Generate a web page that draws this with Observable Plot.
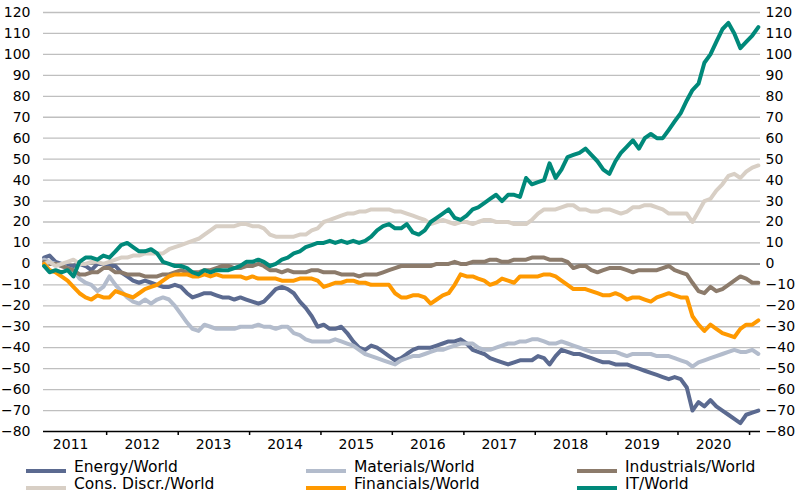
<!DOCTYPE html>
<html><head><meta charset="utf-8">
<script src="https://cdn.jsdelivr.net/npm/d3@7"></script>
<script src="https://cdn.jsdelivr.net/npm/@observablehq/plot@0.6"></script>
<style>
body{margin:0;background:#fff;font-family:"DejaVu Sans",sans-serif;}
#wrap{width:800px;height:498px;position:relative;overflow:hidden;}
#chart{position:absolute;left:0;top:0;}
#legend{position:absolute;left:0;top:450px;width:800px;height:48px;font-size:15.5px;color:#000;}
.sw{position:absolute;width:40px;height:4px;}
.lab{position:absolute;line-height:18px;white-space:nowrap;}
</style></head><body><div id="wrap"><div id="chart"></div><div id="legend"></div></div>
<script>
const seriesNames = ["Energy/World","Materials/World","Industrials/World","Cons. Discr./World","Financials/World","IT/World"];
const seriesColors = ["#5b6a90","#b3bccc","#8c7b6b","#d8cfc5","#ff9900","#00897a"];
const yearLabels = ["2011","2012","2013","2014","2015","2016","2017","2018","2019","2020"];
const yTicks = [-80,-70,-60,-50,-40,-30,-20,-10,0,10,20,30,40,50,60,70,80,90,100,110,120];

// monthly observations, Feb 2011 .. Feb 2021 (mid-month)
const energy = [
  3,4,1,0,-1,-1,0,-1,-3,0,0,-1,
  -1,-4,-6,-8,-9,-8,-9,-10,-11,-11,-10,-11,
  -14,-16,-15,-14,-14,-15,-16,-16,-17,-16,-17,-18,
  -19,-18,-15,-12,-11,-12,-14,-18,-21,-25,-30,-29,
  -31,-31,-30,-33,-37,-40,-41,-39,-40,-42,-44,-46,
  -45,-43,-41,-40,-40,-40,-39,-38,-37,-37,-36,-38,
  -41,-42,-43,-45,-46,-47,-48,-47,-46,-46,-46,-44,
  -45,-48,-44,-41,-42,-43,-43,-44,-45,-46,-47,-47,
  -48,-48,-48,-49,-50,-51,-52,-53,-54,-55,-54,-55,
  -59,-70,-66,-68,-65,-68,-70,-72,-74,-76,-72,-71,-70];
const materials = [
  2,1,0,-1,-2,-3,-7,-9,-10,-13,-11,-6,
  -10,-13,-16,-18,-19,-17,-19,-17,-16,-17,-20,-24,
  -28,-31,-32,-29,-30,-31,-31,-31,-31,-30,-30,-30,
  -29,-30,-30,-31,-30,-30,-33,-34,-36,-37,-37,-37,
  -37,-36,-37,-38,-39,-41,-43,-44,-45,-46,-47,-48,
  -46,-45,-44,-44,-43,-42,-41,-41,-40,-39,-38,-38,
  -38,-40,-41,-41,-40,-39,-38,-38,-37,-37,-36,-36,
  -37,-38,-38,-37,-38,-39,-40,-41,-42,-42,-42,-42,
  -42,-43,-44,-43,-43,-43,-43,-44,-44,-44,-45,-46,
  -47,-49,-47,-46,-45,-44,-43,-42,-41,-42,-42,-41,-43];
const industrials = [
  1,0,0,-1,-2,-3,-5,-5,-4,-4,-2,-2,
  -4,-4,-5,-5,-5,-6,-6,-6,-5,-5,-4,-3,
  -4,-4,-4,-3,-3,-2,-1,-1,-2,-2,-1,-1,
  0,-1,-3,-3,-4,-3,-4,-4,-4,-3,-3,-4,
  -4,-4,-5,-5,-5,-6,-5,-5,-5,-4,-3,-2,
  -1,-1,-1,-1,-1,-1,0,0,0,1,0,0,
  1,1,1,2,2,1,1,2,2,2,3,3,
  3,2,2,2,1,-2,-1,-1,-3,-4,-3,-2,
  -2,-2,-3,-4,-3,-3,-3,-3,-2,-1,-3,-4,
  -5,-9,-13,-14,-11,-13,-12,-10,-8,-6,-7,-9,-9];
const consDiscr = [
  0,1,-1,0,1,2,0,0,1,1,0,1,
  2,3,3,4,4,5,5,5,5,7,8,9,
  10,11,12,14,16,18,18,18,18,19,19,18,
  18,17,14,13,13,13,13,14,14,16,17,20,
  21,22,23,24,24,25,25,26,26,26,26,25,
  25,24,23,22,21,19,20,21,20,19,20,20,
  19,20,21,21,20,20,20,19,19,19,21,24,
  26,26,26,27,28,28,26,26,25,25,26,26,
  25,24,25,27,27,28,28,27,26,24,24,24,
  24,20,25,30,31,35,38,42,43,41,44,46,47];
const financials = [
  0,-3,-4,-6,-8,-11,-14,-16,-17,-15,-16,-16,
  -13,-14,-15,-16,-14,-12,-11,-10,-8,-6,-5,-5,
  -5,-6,-6,-5,-6,-5,-6,-6,-6,-6,-7,-6,
  -7,-7,-7,-7,-8,-8,-8,-7,-7,-7,-8,-11,
  -10,-9,-9,-8,-8,-9,-9,-10,-10,-10,-10,-14,
  -16,-16,-15,-15,-16,-19,-17,-15,-14,-10,-5,-6,
  -6,-7,-8,-10,-9,-7,-8,-9,-6,-6,-6,-6,
  -5,-5,-6,-8,-10,-12,-12,-12,-13,-14,-15,-15,
  -14,-15,-17,-16,-16,-17,-18,-16,-15,-14,-15,-16,
  -16,-25,-29,-32,-29,-31,-33,-34,-35,-31,-29,-29,-27];
const it = [
  -1,-4,-3,-4,-3,-6,1,3,3,2,4,3,
  6,9,10,8,6,6,7,5,1,0,-1,-1,
  -2,-4,-5,-3,-4,-3,-3,-3,-2,-1,1,1,
  2,1,-1,0,2,3,5,6,8,9,10,10,
  11,10,11,10,11,10,11,13,16,18,19,17,
  17,19,15,14,16,20,22,24,26,22,21,23,
  26,27,29,31,33,30,33,33,32,41,38,39,
  40,48,41,45,51,52,53,55,52,49,45,43,
  49,53,56,59,55,60,62,60,60,64,68,72,
  78,83,86,96,100,106,112,115,110,103,106,109,113];

const seriesValues = [energy, materials, industrials, consDiscr, financials, it];
const months = d3.utcMonth.range(new Date(Date.UTC(2011,1,1)), new Date(Date.UTC(2021,2,1)))
  .map(d => d3.utcDay.offset(d, 14));

const data = seriesNames.flatMap((name, i) =>
  seriesValues[i].map((v, k) => ({date: months[k], value: v, series: name})));

const yearStarts = d3.range(2012, 2022).map(y => new Date(Date.UTC(y, 0, 1)));
const yearMids = yearLabels.map(y => new Date(Date.UTC(+y, 6, 1)));

const chart = Plot.plot({
  width: 800, height: 456,
  marginTop: 12, marginBottom: 25, marginLeft: 43, marginRight: 40,
  style: {fontFamily: "DejaVu Sans, sans-serif", fontSize: "14px", color: "#000", background: "transparent"},
  x: {type: "utc", domain: [new Date(Date.UTC(2011,1,12)), new Date(Date.UTC(2021,1,26))]},
  y: {domain: [-80, 120]},
  color: {domain: seriesNames, range: seriesColors},
  marks: [
    Plot.ruleY(yTicks.filter(v => v !== 0 && v !== -80), {stroke: "#bfbfbf", strokeWidth: 1.3}),
    Plot.ruleY([0], {stroke: "#808080", strokeWidth: 1.5}),
    Plot.line(data, {x: "date", y: "value", z: "series", stroke: "series",
      strokeWidth: 4, strokeLinejoin: "round", strokeLinecap: "round"}),
    Plot.ruleY([-80], {stroke: "#000", strokeWidth: 1.5}),
    Plot.axisY({anchor: "left", ticks: yTicks, tickSize: 0, tickPadding: 13, label: null}),
    Plot.axisY({anchor: "right", ticks: yTicks, tickSize: 0, tickPadding: 5, label: null}),
    Plot.axisX({ticks: yearStarts, tickSize: 4, tickFormat: () => "", stroke: "#000", strokeWidth: 1.5, label: null}),
    Plot.axisX({ticks: yearMids, tickSize: 0, tickPadding: 8, tickFormat: d => String(d.getUTCFullYear()), label: null})
  ]
});
document.getElementById("chart").appendChild(chart);

// legend
const legend = document.getElementById("legend");
const colX = [26, 306, 577];
const rowTop = [8, 25];
seriesNames.forEach((name, i) => {
  const col = i % 3, row = Math.floor(i / 3);
  const sw = document.createElement("div");
  sw.className = "sw";
  sw.style.left = colX[col] + "px";
  sw.style.top = (rowTop[row] + 11) + "px";
  sw.style.background = seriesColors[i];
  legend.appendChild(sw);
  const lab = document.createElement("div");
  lab.className = "lab";
  lab.style.left = (colX[col] + 48) + "px";
  lab.style.top = rowTop[row] + "px";
  lab.textContent = name;
  legend.appendChild(lab);
});
</script>
</body></html>
